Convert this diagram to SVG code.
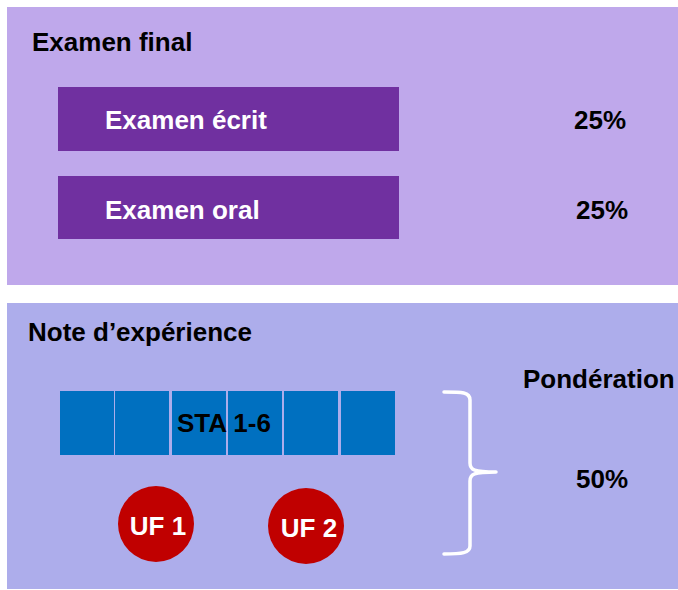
<svg xmlns="http://www.w3.org/2000/svg" width="678" height="590" viewBox="0 0 678 590">
<style>
text{font-family:"Liberation Sans",Arial,sans-serif;font-weight:bold;font-size:26px}
.dark{fill:#000}
.light{fill:#fff}
.exam{fill:#7030A0}
.sta{fill:#0070C0}
.uf{fill:#C00000}
</style>
<rect width="678" height="590" fill="#fff"/>
<g id="panel-final">
<rect x="7" y="7" width="671" height="278" fill="#BFA8EB"/>
<text class="dark" x="32" y="51">Examen final</text>
</g>
<g id="node-ecrit">
<rect class="exam" x="58" y="87" width="341" height="64"/>
<text class="light" x="105" y="129">Examen écrit</text>
</g>
<text class="dark" x="574" y="129">25%</text>
<g id="node-oral">
<rect class="exam" x="58" y="176" width="341" height="63"/>
<text class="light" x="105" y="219">Examen oral</text>
</g>
<text class="dark" x="576" y="219">25%</text>
<g id="panel-experience">
<rect x="7" y="303" width="671" height="286" fill="#ADADEB"/>
<text class="dark" x="28" y="341">Note d’expérience</text>
<text class="dark" x="523" y="388">Pondération</text>
</g>
<g id="node-sta">
<rect class="sta" x="60" y="391" width="54" height="64"/>
<rect class="sta" x="115" y="391" width="54" height="64"/>
<rect class="sta" x="172" y="391" width="54" height="64"/>
<rect class="sta" x="228" y="391" width="54" height="64"/>
<rect class="sta" x="284" y="391" width="54" height="64"/>
<rect class="sta" x="341" y="391" width="54" height="64"/>
<text class="dark" x="177" y="432">STA 1-6</text>
</g>
<g id="node-uf1">
<circle class="uf" cx="156" cy="524" r="38"/>
<text class="light" x="158" y="535" text-anchor="middle">UF 1</text>
</g>
<g id="node-uf2">
<circle class="uf" cx="306" cy="526" r="38"/>
<text class="light" x="309" y="537" text-anchor="middle">UF 2</text>
</g>
<g id="connectors">
<path d="M444,392 C462,392 470,392 470,400 L470,463 C470,470 474,472 496,472 C474,472 470,474 470,481 L470,546 C470,553 462,554 444,554" fill="none" stroke="#fff" stroke-width="3.5" stroke-linecap="round" stroke-linejoin="round"/>
</g>
<text class="dark" x="576" y="488">50%</text>
</svg>
